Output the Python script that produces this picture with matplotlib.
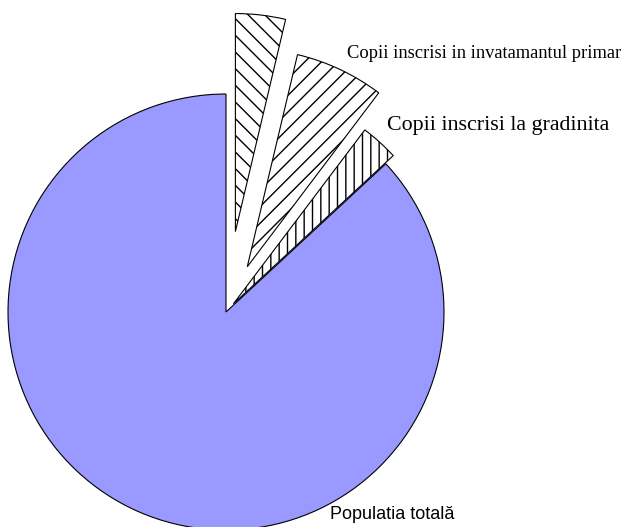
import matplotlib
matplotlib.use('Agg')
import matplotlib.pyplot as plt

# Data (slice shares)
categories = ["Populatia totală",
              "Copii inscrisi la gradinita",
              "Copii inscrisi in invatamantul primar",
              ""]
values = [86.9, 2.8, 6.6, 3.7]

# Styling
W, H = 628, 527
colors = ['#9999FF', 'white', 'white', 'white']
hatches = [None, '||', '//', '\\\\']
explode = [0, 11, 50, 81]          # in pixel units
center = (226, H - 312)
radius = 218

fig = plt.figure(figsize=(W / 100, H / 100), dpi=100)
ax = fig.add_axes([0, 0, 1, 1])

wedges, _ = ax.pie(values, explode=explode, colors=colors, startangle=90,
                   counterclock=True, center=center, radius=radius,
                   wedgeprops=dict(edgecolor='black', linewidth=0.8),
                   frame=True)
for w, h in zip(wedges, hatches):
    if h:
        w.set_hatch(h)

ax.set_xlim(0, W)
ax.set_ylim(0, H)
ax.set_aspect('equal')
ax.axis('off')

ax.text(347, H - 58, categories[2], family='Liberation Serif',
        fontsize=13.3, va='baseline', ha='left')
ax.text(387, H - 130, categories[1], family='Liberation Serif',
        fontsize=15.8, va='baseline', ha='left')
ax.text(330, H - 519, categories[0], family='Liberation Sans',
        fontsize=13, va='baseline', ha='left')

fig.savefig('out.png', dpi=100)
